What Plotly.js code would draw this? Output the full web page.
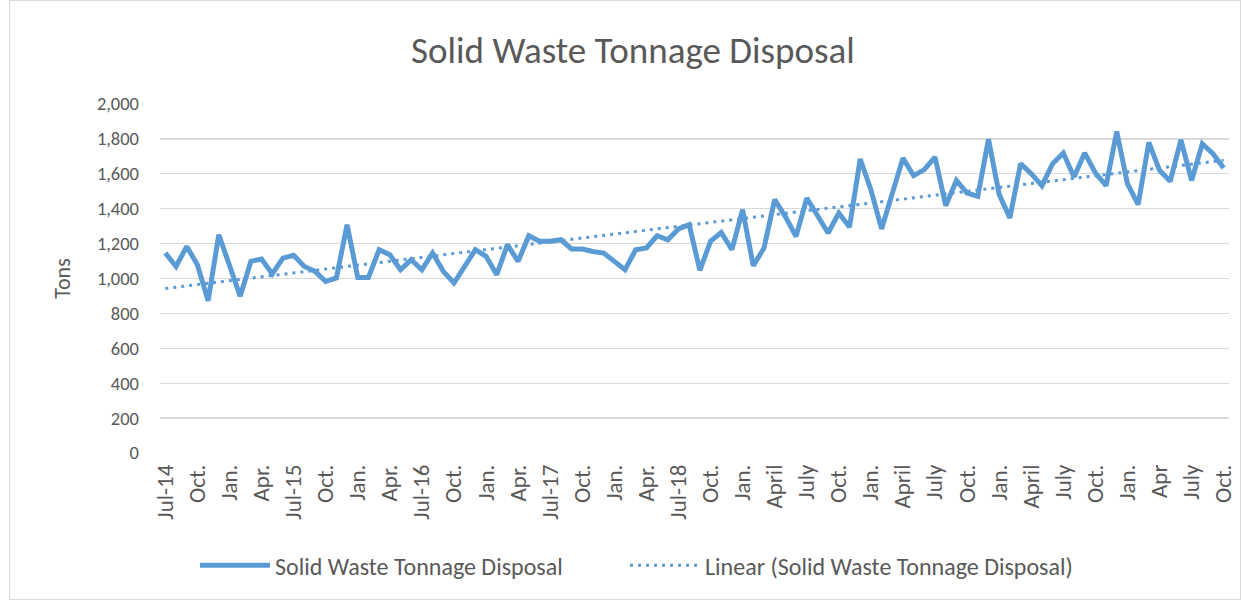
<!DOCTYPE html>
<html>
<head>
<meta charset="utf-8">
<script src="https://cdn.plot.ly/plotly-3.0.1.min.js"></script>
<style>
  html, body { margin: 0; padding: 0; background: #fff; }
  #chart { width: 1241px; height: 601px; }
  #frame { position: absolute; left: 9px; top: 0px; width: 1230px; height: 598px; border: 1px solid #d9d9d9; pointer-events: none; }
</style>
</head>
<body>
<div id="chart"></div>
<div id="frame"></div>
<script>
// Monthly solid waste tonnage, Jul-2014 .. Oct-2022 (100 months)
const tonnage = [
  1146, 1069, 1184, 1079, 872, 1251, 1075, 898, 1098, 1112,
  1026, 1117, 1133, 1069, 1041, 983, 1003, 1308, 1006, 1006,
  1165, 1136, 1050, 1108, 1050, 1146, 1041, 974, 1069, 1165,
  1127, 1022, 1194, 1098, 1245, 1213, 1213, 1222, 1169, 1169,
  1155, 1146, 1098, 1050, 1165, 1175, 1245, 1222, 1284, 1308,
  1047, 1213, 1264, 1165, 1394, 1073, 1175, 1452, 1355, 1241,
  1461, 1360, 1261, 1375, 1295, 1685, 1509, 1284, 1500, 1690,
  1589, 1624, 1696, 1417, 1562, 1490, 1471, 1798, 1482, 1347,
  1658, 1601, 1532, 1658, 1719, 1582, 1719, 1605, 1532, 1843,
  1543, 1423, 1780, 1620, 1557, 1795, 1562, 1772, 1715, 1633
];
// Tick labels shown every third month
const tickLabels = [
  "Jul-14", "Oct.", "Jan.", "Apr.", "Jul-15", "Oct.", "Jan.", "Apr.",
  "Jul-16", "Oct.", "Jan.", "Apr.", "Jul-17", "Oct.", "Jan.", "Apr.",
  "Jul-18", "Oct.", "Jan.", "April", "July", "Oct.", "Jan.", "April",
  "July", "Oct.", "Jan.", "April", "July", "Oct.", "Jan.", "Apr", "July", "Oct."
];
const seriesName = "Solid Waste Tonnage Disposal";
const tickStep = 3;

const xIdx = tonnage.map((_, i) => i);
const tickVals = tickLabels.map((_, k) => k * tickStep);

// Least-squares linear trend of the series
const n = tonnage.length;
const mx = xIdx.reduce((a, b) => a + b, 0) / n;
const my = tonnage.reduce((a, b) => a + b, 0) / n;
let sxy = 0, sxx = 0;
for (let i = 0; i < n; i++) { sxy += (xIdx[i] - mx) * (tonnage[i] - my); sxx += (xIdx[i] - mx) ** 2; }
const slope = sxy / sxx, icpt = my - slope * mx;
const trend = xIdx.map(x => icpt + slope * x);

const blue = "#5b9bd5";
const txt = "#595959";
const FONT = "Carlito, Calibri, Lato, sans-serif";

const data = [
  { x: xIdx, y: tonnage, type: "scatter", mode: "lines", name: seriesName,
    line: { color: blue, width: 5 }, legend: "legend" },
  { x: xIdx, y: trend, type: "scatter", mode: "lines", name: "Linear (" + seriesName + ")",
    line: { color: blue, width: 3, dash: "3px,5px" }, legend: "legend2" }
];

const legendBase = {
  orientation: "h", xanchor: "left", y: -0.323, yanchor: "middle",
  font: { size: 24, color: txt }, itemwidth: 70, bgcolor: "rgba(0,0,0,0)"
};

const layout = {
  width: 1241, height: 601,
  margin: { l: 160, r: 12, t: 104, b: 148 },
  paper_bgcolor: "#fff", plot_bgcolor: "#fff",
  font: { family: FONT, color: txt, size: 18 },
  title: { text: "Solid Waste Tonnage Disposal", font: { size: 37, color: txt, family: FONT },
           xref: "container", x: 0.51, xanchor: "center", yref: "container", y: 0.917, yanchor: "middle" },
  xaxis: {
    range: [-0.5, n - 0.5], tickmode: "array", tickvals: tickVals, ticktext: tickLabels,
    tickangle: -90, showgrid: false, zeroline: false, showline: false, ticks: "",
    tickfont: { size: 23, color: txt }, ticklabelstandoff: 6, fixedrange: true
  },
  yaxis: {
    range: [0, 2000], dtick: 200, tickformat: ",", gridcolor: "#d9d9d9", gridwidth: 1.3,
    zeroline: false, showline: false, ticks: "", tickfont: { size: 18.5, color: txt },
    ticklabelstandoff: 20,
    title: { text: "Tons", font: { size: 22, color: txt }, standoff: 20 }
  },
  showlegend: true,
  legend: Object.assign({}, legendBase, { x: 0.0327 }),
  legend2: Object.assign({}, legendBase, { x: 0.435 })
};

Plotly.newPlot("chart", data, layout, { displayModeBar: false, staticPlot: true });
</script>
</body>
</html>
